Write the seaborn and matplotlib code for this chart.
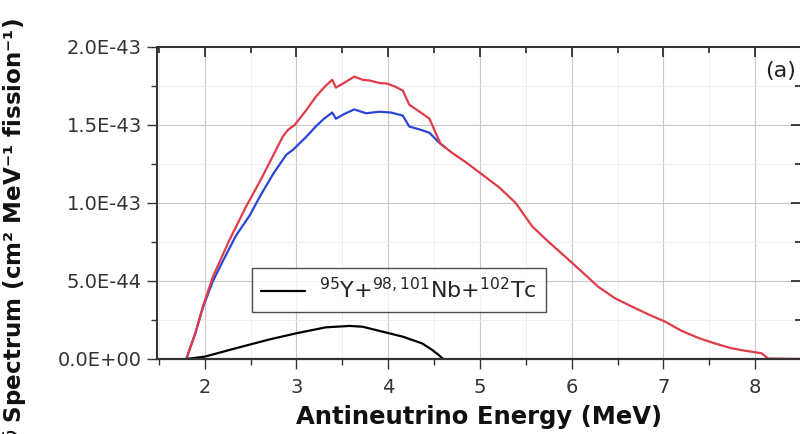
import numpy as np
import pandas as pd
import matplotlib
matplotlib.use("Agg")
import matplotlib.pyplot as plt
from matplotlib.ticker import MultipleLocator, FuncFormatter, NullFormatter
import seaborn as sns

# ---- data (values in units of 1e-43) ----
energy_total = [1.80, 1.90, 1.98, 2.09, 2.27, 2.45, 2.63, 2.85, 2.91, 2.98, 3.10, 3.21,
                3.30, 3.39, 3.43, 3.52, 3.63, 3.72, 3.80, 3.90, 3.99, 4.08, 4.16, 4.23,
                4.33, 4.45, 4.57, 4.70, 4.85, 5.03, 5.21, 5.39, 5.57, 5.75, 5.93, 6.11,
                6.29, 6.47, 6.66, 6.84, 7.02, 7.20, 7.39, 7.56, 7.74, 7.90, 8.07, 8.14, 8.50]
spec_total = [0.0, 0.17, 0.335, 0.528, 0.763, 0.976, 1.17, 1.425, 1.47, 1.50, 1.59, 1.68,
              1.74, 1.79, 1.74, 1.77, 1.81, 1.79, 1.785, 1.77, 1.765, 1.745, 1.72, 1.63,
              1.59, 1.54, 1.38, 1.32, 1.26, 1.18, 1.10, 1.00, 0.85, 0.75, 0.656, 0.56,
              0.463, 0.39, 0.335, 0.285, 0.239, 0.18, 0.133, 0.10, 0.069, 0.052, 0.037, 0.003, 0.0]

energy_without = [1.80, 1.90, 1.98, 2.09, 2.20, 2.34, 2.49, 2.60, 2.75, 2.89, 2.96, 3.10,
                  3.21, 3.30, 3.39, 3.43, 3.52, 3.63, 3.76, 3.90, 4.03, 4.16, 4.23, 4.35,
                  4.45, 4.55, 4.62]
spec_without = [0.0, 0.17, 0.33, 0.50, 0.63, 0.79, 0.92, 1.04, 1.19, 1.31, 1.34, 1.42,
                1.49, 1.54, 1.58, 1.54, 1.57, 1.60, 1.575, 1.585, 1.58, 1.56, 1.49, 1.47,
                1.45, 1.39, 1.357]

energy_isotopes = [1.80, 2.00, 2.34, 2.71, 3.00, 3.32, 3.58, 3.72, 3.94, 4.16, 4.37, 4.48, 4.55, 4.60]
spec_isotopes = [0.0, 0.015, 0.069, 0.126, 0.165, 0.203, 0.212, 0.207, 0.175, 0.143, 0.100, 0.058, 0.026, 0.0]

scale = 1e-43
x_ticks = [2, 3, 4, 5, 6, 7, 8]
y_ticks = [0.0, 5e-44, 1e-43, 1.5e-43, 2e-43]
legend_label = r'$^{95}$Y+$^{98,101}$Nb+$^{102}$Tc'
x_label = 'Antineutrino Energy (MeV)'
y_label = r'$\bar{\nu}$ Spectrum (cm² MeV⁻¹ fission⁻¹)'
panel_label = '(a)'

# ---- style ----
sns.set_style("white", {'xtick.bottom': True, 'ytick.left': True})
plt.rcParams['font.family'] = ['DejaVu Sans']
plt.rcParams['mathtext.fontset'] = 'dejavusans'

fig = plt.figure(figsize=(8, 4.34), dpi=100)
ax = fig.add_axes([157 / 800, 75 / 434, 644 / 800, 312 / 434])

df_wo = pd.DataFrame({'E': energy_without, 'S': np.array(spec_without) * scale})
df_tot = pd.DataFrame({'E': energy_total, 'S': np.array(spec_total) * scale})
df_iso = pd.DataFrame({'E': energy_isotopes, 'S': np.array(spec_isotopes) * scale})

sns.lineplot(data=df_wo, x='E', y='S', ax=ax, color='#2a45d8', lw=1.6,
             sort=False, estimator=None, legend=False)
sns.lineplot(data=df_tot, x='E', y='S', ax=ax, color='#e03c48', lw=1.6,
             sort=False, estimator=None, legend=False)
sns.lineplot(data=df_iso, x='E', y='S', ax=ax, color='black', lw=1.6,
             sort=False, estimator=None, label=legend_label)

xlim = (1.48, 8.5)
ylim = (0, 2e-43)
ax.set_xlim(*xlim)
ax.set_ylim(*ylim)
ax.set_xticks(x_ticks)
ax.set_yticks(y_ticks)
ax.xaxis.set_minor_locator(MultipleLocator(0.5))
ax.yaxis.set_minor_locator(MultipleLocator(2.5e-44))
ax.yaxis.set_major_formatter(FuncFormatter(lambda v, p: '%.1E' % v))
ax.set_xticklabels([str(t) for t in x_ticks])

ax.grid(which='major', color='#c8c8c8', lw=0.8)
ax.grid(which='minor', color='#ededed', lw=0.6)
ax.set_axisbelow(True)

ax.tick_params(which='both', bottom=True, left=True, top=False, right=False)
ax.tick_params(which='major', direction='out', length=7, width=1.0, color='#333333',
               labelsize=14, labelcolor='#333333')
ax.tick_params(axis='y', which='major', pad=4)
ax.tick_params(axis='x', which='major', pad=7)
ax.tick_params(which='minor', direction='out', length=4, width=1.0, color='#333333')
for s in ax.spines.values():
    s.set_color('#333333')
    s.set_linewidth(1.2)
ax.spines['bottom'].set_linewidth(1.6)

# inward ticks on top (twin axes)
axt = ax.twiny()
axt.set_xlim(*xlim)
axt.set_xticks(x_ticks)
axt.xaxis.set_minor_locator(MultipleLocator(0.5))
axt.xaxis.set_major_formatter(NullFormatter())
axt.tick_params(axis='x', which='both', top=True, bottom=False, labeltop=False,
                labelbottom=False, direction='in', color='#222222', width=1.2)
axt.tick_params(axis='x', which='major', length=7)
axt.tick_params(axis='x', which='minor', length=4)
axt.tick_params(axis='y', which='both', left=False, right=False, labelleft=False, labelright=False)
axt.grid(False)

# inward ticks on right (twin axes)
axr = ax.twinx()
axr.set_ylim(*ylim)
axr.set_yticks(y_ticks)
axr.yaxis.set_minor_locator(MultipleLocator(2.5e-44))
axr.yaxis.set_major_formatter(NullFormatter())
axr.tick_params(axis='y', which='both', right=True, left=False, labelright=False,
                labelleft=False, direction='in', color='#222222', width=1.2)
axr.tick_params(axis='y', which='major', length=7)
axr.tick_params(axis='y', which='minor', length=4)
axr.tick_params(axis='x', which='both', top=False, bottom=False, labeltop=False, labelbottom=False)
axr.grid(False)
for a in (axt, axr):
    for s in a.spines.values():
        s.set_color('#333333')
        s.set_linewidth(1.2)

ax.set_xlabel(x_label, fontsize=17.5, fontweight='bold', color='#111111')
ax.xaxis.set_label_coords(0.5, -0.147)
ax.set_ylabel(y_label, fontsize=16.6, fontweight='bold', color='#111111')
ax.yaxis.set_label_coords(-0.2, 0.41)

ax.text(0.944, 0.923, panel_label, transform=ax.transAxes, fontsize=16, color='#222222',
        ha='left', va='center')

leg = ax.legend(loc='lower left', bbox_to_anchor=(0.147, 0.151), borderaxespad=0,
                fontsize=16, frameon=True, fancybox=False, handlelength=2.0,
                handletextpad=0.6, borderpad=0.42)
leg.get_frame().set_edgecolor('#222222')
leg.get_frame().set_linewidth(1.0)

fig.savefig('out.png', dpi=100)
